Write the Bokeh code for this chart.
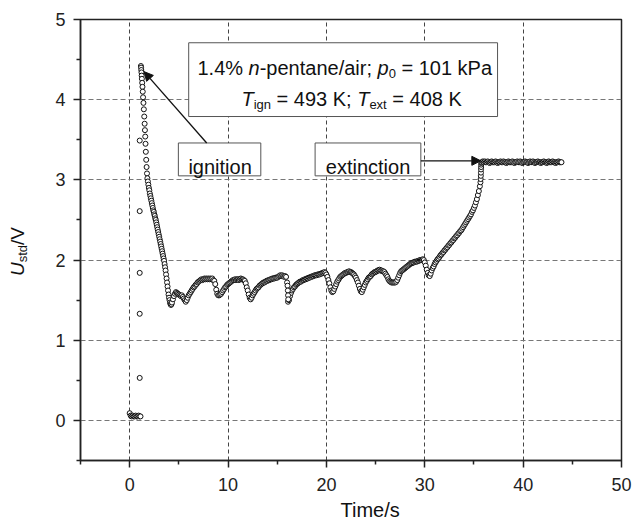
from math import pi
from bokeh.plotting import figure
from bokeh.layouts import column, row
from bokeh.models import Range1d, FixedTicker, BoxAnnotation, Label, Arrow, NormalHead
from bokeh.embed import file_html
from bokeh.resources import INLINE

FONT = "Liberation Sans"

# ---------------- data ----------------
x_ticks = [0, 10, 20, 30, 40, 50]
x_minor = [-5, 5, 15, 25, 35, 45]
y_ticks = [0, 1, 2, 3, 4, 5]
y_minor = [-0.5, 0.5, 1.5, 2.5, 3.5, 4.5]

# before ignition
pre_t = [0.0, 0.1, 0.2, 0.3, 0.4, 0.5, 0.6, 0.7, 0.8, 0.9, 1.0, 1.1]
pre_u = [0.09, 0.06, 0.05, 0.06, 0.05, 0.05, 0.06, 0.05, 0.05, 0.06, 0.05, 0.05]

# ignition jump
jump_t = [1.02, 1.02, 1.02, 1.02, 1.02]
jump_u = [0.53, 1.33, 1.84, 2.61, 3.49]

# peak and first fast decay
peak_t = [1.14, 1.16, 1.18, 1.20, 1.22, 1.24, 1.27, 1.30, 1.33, 1.36, 1.40,
          1.44, 1.48, 1.52, 1.55, 1.58, 1.61, 1.64, 1.68, 1.72, 1.76]
peak_u = [4.42, 4.40, 4.37, 4.34, 4.30, 4.26, 4.21, 4.16, 4.10, 4.03, 3.96,
          3.88, 3.79, 3.70, 3.62, 3.54, 3.45, 3.35, 3.25, 3.16, 3.08]

# decay, sampled every 0.05 s from 1.80 s
decay_start, decay_step = 1.80, 0.05
decay_u = [3.02, 2.98, 2.94, 2.90, 2.87, 2.83, 2.80, 2.77, 2.74, 2.71,
           2.68, 2.65, 2.62, 2.60, 2.57, 2.55, 2.52, 2.50, 2.47, 2.44,
           2.41, 2.38, 2.35, 2.32, 2.29, 2.26, 2.23, 2.20, 2.17, 2.14,
           2.11, 2.08, 2.05, 2.02, 1.99, 1.95, 1.91, 1.87, 1.82, 1.77,
           1.72, 1.67, 1.62, 1.57, 1.53, 1.50, 1.47, 1.45, 1.44, 1.45,
           1.47]

# burning with oscillations, sampled every 0.1 s from 4.4 s
osc_start, osc_step = 4.4, 0.1
osc_u = [1.51, 1.55, 1.58, 1.60, 1.59, 1.58,
         1.57, 1.56, 1.55, 1.56, 1.54, 1.52, 1.50, 1.48, 1.50, 1.53,
         1.56, 1.58, 1.60, 1.62, 1.64, 1.66, 1.67, 1.69, 1.70, 1.72,
         1.73, 1.74, 1.75, 1.76, 1.75, 1.76, 1.77, 1.76, 1.77, 1.76,
         1.77, 1.76, 1.77, 1.76, 1.77, 1.75, 1.74, 1.70, 1.63, 1.58,
         1.56, 1.56, 1.57, 1.58, 1.60, 1.62, 1.64, 1.66, 1.67, 1.69,
         1.70, 1.71, 1.72, 1.73, 1.74, 1.75, 1.75, 1.76, 1.75, 1.76,
         1.76, 1.75, 1.76, 1.77, 1.76, 1.76, 1.75, 1.74, 1.71, 1.66,
         1.62, 1.57, 1.53, 1.51, 1.53, 1.56, 1.58, 1.60, 1.62, 1.64,
         1.65, 1.66, 1.68, 1.69, 1.70, 1.71, 1.72, 1.72, 1.73, 1.74,
         1.74, 1.75, 1.75, 1.76, 1.76, 1.77, 1.77, 1.77, 1.78, 1.78,
         1.78, 1.79, 1.80, 1.81, 1.80, 1.81, 1.80, 1.79, 1.80, 1.79,
         1.72, 1.48, 1.50, 1.55, 1.59, 1.62, 1.64, 1.66, 1.67, 1.69,
         1.70, 1.71, 1.72, 1.73, 1.73, 1.74, 1.75, 1.75, 1.76, 1.76,
         1.77, 1.77, 1.78, 1.78, 1.79, 1.79, 1.80, 1.80, 1.81, 1.81,
         1.81, 1.82, 1.82, 1.82, 1.83, 1.83, 1.84, 1.84, 1.85, 1.84,
         1.82, 1.79, 1.75, 1.71, 1.66, 1.62, 1.60, 1.61, 1.64, 1.67,
         1.70, 1.73, 1.75, 1.77, 1.79, 1.80, 1.81, 1.82, 1.83, 1.84,
         1.84, 1.85, 1.85, 1.86, 1.85, 1.85, 1.84, 1.83, 1.82, 1.80,
         1.78, 1.75, 1.72, 1.68, 1.64, 1.61, 1.60, 1.63, 1.66, 1.69,
         1.72, 1.74, 1.76, 1.78, 1.79, 1.80, 1.82, 1.83, 1.84, 1.85,
         1.85, 1.86, 1.87, 1.87, 1.88, 1.87, 1.87, 1.86, 1.86, 1.85,
         1.83, 1.81, 1.79, 1.76, 1.74, 1.73, 1.72, 1.72, 1.72, 1.72,
         1.72, 1.73, 1.75, 1.78, 1.81, 1.84, 1.86, 1.87, 1.88, 1.89,
         1.90, 1.91, 1.92, 1.93, 1.94, 1.95, 1.96, 1.96, 1.97, 1.97,
         1.98, 1.98, 1.98, 1.99, 1.99, 2.00, 2.00, 2.00, 2.01, 2.00,
         1.97, 1.93, 1.88, 1.84, 1.81, 1.80, 1.83, 1.87, 1.90, 1.92]

# fast drop near 16.1 s
drop_t = [16.05, 16.08, 16.10, 16.12]
drop_u = [1.68, 1.62, 1.56, 1.51]

# rise towards extinction, sampled every 0.1 s from 31.0 s
rise_start, rise_step = 31.0, 0.1
rise_u = [1.95, 1.97, 1.99, 2.01, 2.02, 2.04, 2.06, 2.07, 2.09, 2.10,
          2.12, 2.13, 2.15, 2.16, 2.18, 2.19, 2.21, 2.22, 2.24, 2.25,
          2.27, 2.28, 2.30, 2.31, 2.33, 2.34, 2.36, 2.37, 2.39, 2.41,
          2.43, 2.45, 2.47, 2.49, 2.51, 2.53, 2.55, 2.57, 2.60, 2.62,
          2.65, 2.68, 2.72, 2.76, 2.81, 2.86, 2.92]

# extinction jump
ext_t = [35.66, 35.68, 35.70, 35.71, 35.72, 35.73, 35.74, 35.75]
ext_u = [2.97, 3.01, 3.05, 3.09, 3.13, 3.16, 3.19, 3.21]

# after extinction, sampled every 0.1 s from 35.8 s
flat_start, flat_step = 35.8, 0.1
flat_u = [3.22, 3.23,
          3.22, 3.23, 3.22, 3.22, 3.23, 3.22, 3.21, 3.22, 3.23, 3.22,
          3.22, 3.22, 3.23, 3.22, 3.21, 3.22, 3.22, 3.23, 3.22, 3.22,
          3.23, 3.22, 3.22, 3.21, 3.22, 3.23, 3.22, 3.22, 3.22, 3.23,
          3.22, 3.21, 3.22, 3.22, 3.23, 3.22, 3.22, 3.23, 3.22, 3.21,
          3.22, 3.22, 3.23, 3.22, 3.22, 3.21, 3.22, 3.23, 3.22, 3.22,
          3.23, 3.22, 3.21, 3.22, 3.22, 3.23, 3.22, 3.22, 3.21, 3.22,
          3.22, 3.23, 3.22, 3.22, 3.21, 3.22, 3.23, 3.22, 3.22, 3.22,
          3.23, 3.22, 3.22, 3.21, 3.22, 3.22, 3.23, 3.22, 3.22, 3.22]


def sample_times(start, step, values):
    return [round(start + i * step, 3) for i in range(len(values))]


t_all = (pre_t + jump_t + peak_t
         + sample_times(decay_start, decay_step, decay_u)
         + sample_times(osc_start, osc_step, osc_u)
         + drop_t
         + sample_times(rise_start, rise_step, rise_u)
         + ext_t
         + sample_times(flat_start, flat_step, flat_u))
u_all = (pre_u + jump_u + peak_u + decay_u + osc_u + drop_u + rise_u + ext_u + flat_u)

# ---------------- layout sizes ----------------
LEFT_W = 40          # strip holding the y-axis title
MAIN_W = 592
MAIN_H = 495
BOTTOM_H = 24        # strip holding the x-axis title
TOTAL_W = LEFT_W + MAIN_W

# ---------------- main figure ----------------
p = figure(width=MAIN_W, height=MAIN_H, x_range=Range1d(-5, 50), y_range=Range1d(-0.5, 5),
           output_backend="svg", toolbar_location=None,
           min_border_left=40, min_border_right=11, min_border_top=19, min_border_bottom=35,
           background_fill_color="white", border_fill_color="white")

p.outline_line_color = "#222222"
p.outline_line_width = 1.5

p.xaxis.ticker = FixedTicker(ticks=x_ticks, minor_ticks=x_minor)
p.yaxis.ticker = FixedTicker(ticks=y_ticks, minor_ticks=y_minor)
p.xgrid.ticker = FixedTicker(ticks=x_ticks)
p.ygrid.ticker = FixedTicker(ticks=y_ticks)

for ax in (p.xaxis[0], p.yaxis[0]):
    ax.axis_line_color = "#222222"
    ax.axis_line_width = 1.5
    ax.major_tick_line_color = "#222222"
    ax.major_tick_line_width = 1.5
    ax.minor_tick_line_color = "#222222"
    ax.minor_tick_line_width = 1.5
    ax.major_tick_in = 0
    ax.major_tick_out = 7
    ax.minor_tick_in = 0
    ax.minor_tick_out = 4
    ax.major_label_text_font = FONT
    ax.major_label_text_font_size = "18px"
    ax.major_label_text_color = "#222222"
p.xaxis.major_label_standoff = 10
p.yaxis.major_label_standoff = 8

p.xgrid.grid_line_color = "#444444"
p.xgrid.grid_line_dash = "4 3"
p.xgrid.grid_line_width = 1
p.ygrid.grid_line_color = "#777777"
p.ygrid.grid_line_dash = "5 3"
p.ygrid.grid_line_width = 1

p.scatter(t_all, u_all, marker="circle", size=5, line_color="#111111",
          line_width=1.0, fill_color="white")

# ---------------- text helpers ----------------
W = {'0': 556, '1': 556, '2': 556, '3': 556, '4': 556, '5': 556, '6': 556, '7': 556,
     '8': 556, '9': 556, '.': 278, '%': 889, ' ': 278, 'n': 556, '-': 333, 'p': 556,
     'e': 556, 't': 278, 'a': 556, '/': 278, 'i': 222, 'r': 333, ';': 278, '=': 584,
     'k': 500, 'P': 667, 'T': 611, 'K': 667, 'g': 556, 'x': 500, 's': 500, 'd': 556,
     'U': 722, 'V': 667, 'c': 500, 'o': 556, 'm': 833}


def tw(s, size):
    return sum(W.get(c, 556) for c in s) * size / 1000.0


def rich(fig, x, y, pieces, angle=0.0):
    """pieces: (text, style, size, shift) ; shift>0 lowers (subscript)."""
    adv = 0.0
    for text, style, size, shift in pieces:
        lead = len(text) - len(text.lstrip(" "))
        adv += tw(" " * lead, size)
        body = text.strip(" ")
        if angle == 0.0:
            xo, yo = adv, -shift
        else:
            xo, yo = shift, adv
        fig.add_layout(Label(x=x, y=y, x_offset=xo, y_offset=yo, text=body, angle=angle,
                             text_font=FONT, text_font_size=f"{size}px",
                             text_font_style=style, text_color="#111111",
                             text_align="left", text_baseline="alphabetic"))
        adv += tw(text.lstrip(" "), size)


# ---------------- annotations in the plot ----------------
box_kw = dict(fill_color="white", fill_alpha=1.0, line_color="#555555", line_width=1,
              line_alpha=1.0)
p.add_layout(BoxAnnotation(left=6.0, right=37.4, bottom=3.79, top=4.71, **box_kw))
p.add_layout(BoxAnnotation(left=4.95, right=13.33, bottom=3.05, top=3.46, **box_kw))
p.add_layout(BoxAnnotation(left=18.85, right=29.6, bottom=3.05, top=3.46, **box_kw))

rich(p, 6.89, 4.396, [("1.4% ", "normal", 20, 0), ("n", "italic", 20, 0),
                      ("-pentane/air; ", "normal", 20, 0), ("p", "italic", 20, 0),
                      ("0", "normal", 13, 6), (" = 101 kPa", "normal", 20, 0)])
rich(p, 11.36, 4.009, [("T", "italic", 20, 0), ("ign", "normal", 13, 6),
                       (" = 493 K; ", "normal", 20, 0), ("T", "italic", 20, 0),
                       ("ext", "normal", 13, 6), (" = 408 K", "normal", 20, 0)])
rich(p, 5.97, 3.166, [("ignition", "normal", 20, 0)])
rich(p, 19.94, 3.166, [("extinction", "normal", 20, 0)])

p.add_layout(Arrow(end=NormalHead(size=9, fill_color="#111111", line_color="#111111"),
                   x_start=7.83, y_start=3.46, x_end=1.46, y_end=4.35,
                   line_color="#111111", line_width=1.3))
p.add_layout(Arrow(end=NormalHead(size=9, fill_color="#111111", line_color="#111111"),
                   x_start=29.6, y_start=3.2375, x_end=35.7, y_end=3.2375,
                   line_color="#111111", line_width=1.3))


# ---------------- strips for the axis titles ----------------
def strip(w, h):
    f = figure(width=w, height=h, x_range=Range1d(0, w), y_range=Range1d(0, h),
               output_backend="svg", toolbar_location=None,
               x_axis_location=None, y_axis_location=None,
               min_border_left=0, min_border_right=0, min_border_top=0, min_border_bottom=0,
               background_fill_color="white", border_fill_color="white")
    f.outline_line_color = None
    f.xgrid.visible = False
    f.ygrid.visible = False
    return f


yl = strip(LEFT_W, MAIN_H)
rich(yl, 17, MAIN_H - 288, [("U", "italic", 19, 0), ("std", "normal", 13, 5),
                            ("/V", "normal", 19, 0)], angle=pi / 2)

xl = strip(TOTAL_W, BOTTOM_H)
rich(xl, 340, 10, [("Time/s", "normal", 20, 0)])

layout = column(row(yl, p, spacing=0), xl, spacing=0)

open("out.html", "w").write(file_html(layout, INLINE))
